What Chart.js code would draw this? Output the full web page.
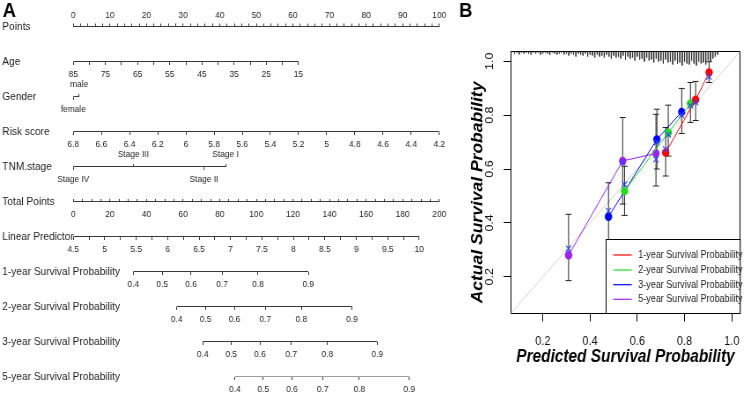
<!DOCTYPE html>
<html><head><meta charset="utf-8">
<script src="https://cdn.jsdelivr.net/npm/chart.js@4.4.1/dist/chart.umd.min.js"></script>
<style>
html,body{margin:0;padding:0;background:#fff;overflow:hidden;width:751px;height:409px;}
#wrap{position:relative;width:751px;height:409px;background:#fff;}
canvas{position:absolute;top:0;}
</style></head><body>
<div id="wrap">
<canvas id="cA" width="545" height="409" style="left:0px;width:480px;height:409px;"></canvas>
<canvas id="cB" width="319" height="409" style="left:470px;width:281px;height:409px;"></canvas>
</div>
<script>
// ================= PANEL A : nomogram data =================
const rowNames = ['Points','Age','Gender','Risk score','TNM.stage','Total Points','Linear Predictor',
  '1-year Survival Probability','2-year Survival Probability','3-year Survival Probability','5-year Survival Probability'];
const pointsLabels = [0,10,20,30,40,50,60,70,80,90,100];
const ageLabels = [85,75,65,55,45,35,25,15];
const ageEndsPoints = [0, 61.5];           // points for age 85 and age 15
const genderLevels = ['male','female'];
const genderPoints = [1.6, 0];
const genderSide = ['above','below'];
const riskLabels = [6.8,6.6,6.4,6.2,6,5.8,5.6,5.4,5.2,5,4.8,4.6,4.4,4.2];
const stageLevels = ['Stage I','Stage II','Stage III','Stage IV'];
const stagePoints = [41.6, 35.7, 16.4, 0];
const stageSide = ['above','below','above','below'];
const totalLabels = [0,20,40,60,80,100,120,140,160,180,200];
const lpLabels = [4.5,5,5.5,6,6.5,7,7.5,8,8.5,9,9.5,10];
const lpEndsPoints = [0, 94.5];             // points for LP 4.5 and LP 10
const survLabels = ['0.4','0.5','0.6','0.7','0.8','0.9'];
const surv1TotalPoints = [32.8, 48.6, 64.3, 81.3, 100.9, 128.4];
const surv2TotalPoints = [56.5, 72.3, 88.1, 104.9, 124.6, 152.3];
const surv3TotalPoints = [70.7, 86.3, 102.0, 119.1, 138.8, 166.1];
const surv5TotalPoints = [88.3, 103.8, 119.5, 136.3, 156.3, 183.6];

// ================= PANEL B : calibration data =================
const calSeries = ['1-year Survival Probability','2-year Survival Probability','3-year Survival Probability','5-year Survival Probability'];
const calColors = ['#ff0000','#22dd22','#0000ff','#a020f0'];
const predicted1 = [0.720, 0.847, 0.904];
const observed1  = [0.661, 0.857, 0.958];
const lower1     = [0.574, 0.780, 0.921];
const upper1     = [0.754, 0.925, 0.998];
const corrected1 = [0.673, 0.847, 0.943];
const predicted2 = [0.546, 0.731, 0.825];
const observed2  = [0.518, 0.735, 0.843];
const lower2     = [0.428, 0.648, 0.773];
const upper2     = [0.610, 0.837, 0.921];
const corrected2 = [0.543, 0.728, 0.835];
const predicted3 = [0.478, 0.683, 0.788];
const observed3  = [0.423, 0.710, 0.812];
const lower3     = [0.300, 0.600, 0.732];
const upper3     = [0.549, 0.822, 0.899];
const corrected3 = [0.445, 0.700, 0.800];
const predicted5 = [0.309, 0.538, 0.679];
const observed5  = [0.280, 0.630, 0.658];
const lower5     = [0.186, 0.470, 0.537];
const upper5     = [0.432, 0.791, 0.803];
const corrected5 = [0.305, 0.625, 0.636];
const calTicks = [0.2, 0.4, 0.6, 0.8, 1.0];
const rugX = [0.08,0.09,0.10,0.11,0.12,0.13,0.14,0.15,0.16,0.17,0.18,0.19,0.20,0.21,0.22,0.23,0.24,0.25,0.26,0.27,0.28,0.29,
  0.30,0.31,0.32,0.33,0.34,0.35,0.36,0.37,0.38,0.39,0.40,0.41,0.42,0.43,0.44,0.45,0.46,0.47,0.48,0.49,0.50,0.51,0.52,0.53,0.54,
  0.55,0.56,0.57,0.58,0.59,0.60,0.61,0.62,0.63,0.64,0.65,0.66,0.67,0.68,0.69,0.70,0.71,0.72,0.73,0.74,0.75,0.76,0.77,0.78,0.79,
  0.80,0.81,0.82,0.83,0.84,0.85,0.86,0.87,0.88,0.89,0.90,0.91,0.92,0.93,0.94];
const rugFreq = [2,1,3,1,2,1,2,3,1,2,1,3,2,1,2,3,1,2,3,2,1,3,
  2,4,2,3,5,2,3,4,2,5,3,4,6,3,5,4,6,3,5,7,4,6,5,7,4,
  8,5,7,6,9,5,8,7,10,6,9,8,11,7,10,9,12,8,11,10,13,9,12,11,14,
  10,12,13,9,12,14,10,12,11,13,9,10,7,5,3];

// ================= common style =================
const FONT = '"Liberation Sans", Arial, Helvetica, sans-serif';
Chart.defaults.font.family = FONT;
const LINE = '#3a3a3a';
const TXT = '#1e1e1e';
const SQ_A = 480 / 545;      // horizontal compression of the reference figure
const SQ_B = 281 / 319;
const ax = x => x / SQ_A;
const bx = x => (x - 470) / SQ_B;

// ---------- helpers panel A ----------
const TK = 3;
function linearRange(a, pa, b, pb) {
  const slope = (b - a) / (pb - pa);
  const v0 = a - pa * slope, v100 = a + (100 - pa) * slope;
  return v0 < v100 ? {min: v0, max: v100, reverse: false} : {min: v100, max: v0, reverse: true};
}
function steps(from, to, step) { const r = []; const n = Math.round(Math.abs(to - from) / step); for (let i = 0; i <= n; i++) r.push(+(from + Math.sign(to - from) * step * i).toFixed(4)); return r; }
function rowAxis(row, o) {
  return {
    type: 'linear', axis: 'x', position: {y: row},
    min: o.min, max: o.max, reverse: !!o.reverse, bounds: 'data',
    afterBuildTicks: s => { s.ticks = o.ticks.map(v => ({value: v})); },
    grid: {display: true, drawOnChartArea: false, drawTicks: true, tickLength: o.up ? -TK : TK, color: LINE, lineWidth: 1},
    border: {display: false},
    ticks: {autoSkip: false, maxRotation: 0, minRotation: 0, padding: o.pad, color: TXT, font: {size: 9.5}, callback: o.label}
  };
}
const PAD_BELOW = 3.8, PAD_BELOW_UP = 9.9, PAD_ABOVE = -15;
const Y_AXIS_W = ax(73.3) - ax(2.3);

const ageR = linearRange(ageLabels[0], ageEndsPoints[0], ageLabels[ageLabels.length - 1], ageEndsPoints[1]);
const riskR = {min: 4.2, max: 6.8, reverse: true};
const lpR = linearRange(lpLabels[0], lpEndsPoints[0], lpLabels[lpLabels.length - 1], lpEndsPoints[1]);
const survRows = [surv1TotalPoints, surv2TotalPoints, surv3TotalPoints, surv5TotalPoints];

const scalesA = {
  y: {type: 'linear', position: 'left', min: 0, max: 10, reverse: true, bounds: 'data',
      afterBuildTicks: s => { s.ticks = rowNames.map((_, i) => ({value: i})); },
      afterFit: s => { s.width = Y_AXIS_W; },
      grid: {display: false}, border: {display: false},
      ticks: {autoSkip: false, mirror: true, crossAlign: 'near', padding: -Y_AXIS_W, color: TXT, font: {size: 11.5},
              callback: v => rowNames[v]}},
  x: {type: 'linear', position: 'top', min: 0, max: 100, bounds: 'data',
      afterBuildTicks: s => { s.ticks = steps(0, 100, 2).map(v => ({value: v})); },
      afterFit: s => { s.height = 26; },
      grid: {display: true, drawOnChartArea: false, tickLength: TK, color: LINE, lineWidth: 1},
      border: {display: true, color: LINE, width: 1},
      ticks: {autoSkip: false, maxRotation: 0, padding: 2.8, color: TXT, font: {size: 9.5},
              callback: v => pointsLabels.includes(v) ? String(v) : ''}},
  xAge: rowAxis(1, {...ageR, ticks: steps(85, 15, 5), pad: PAD_BELOW, label: v => ageLabels.includes(v) ? String(v) : ''}),
  xGenA: rowAxis(2, {min: 0, max: 100, up: true, pad: PAD_ABOVE,
      ticks: genderPoints.filter((p, i) => genderSide[i] === 'above'),
      label: (v, i) => genderLevels.filter((l, j) => genderSide[j] === 'above')[i]}),
  xGenB: rowAxis(2, {min: 0, max: 100, pad: PAD_BELOW,
      ticks: genderPoints.filter((p, i) => genderSide[i] === 'below'),
      label: (v, i) => genderLevels.filter((l, j) => genderSide[j] === 'below')[i]}),
  xRisk: rowAxis(3, {...riskR, ticks: riskLabels, pad: PAD_BELOW, label: v => String(Math.round(v * 10) / 10)}),
  xTnmA: rowAxis(4, {min: 0, max: 100, up: true, pad: PAD_ABOVE,
      ticks: stagePoints.filter((p, i) => stageSide[i] === 'above'),
      label: (v, i) => stageLevels.filter((l, j) => stageSide[j] === 'above')[i]}),
  xTnmB: rowAxis(4, {min: 0, max: 100, pad: PAD_BELOW,
      ticks: stagePoints.filter((p, i) => stageSide[i] === 'below'),
      label: (v, i) => stageLevels.filter((l, j) => stageSide[j] === 'below')[i]}),
  xTot: rowAxis(5, {min: 0, max: 200, up: true, pad: PAD_BELOW_UP, ticks: steps(0, 200, 5),
      label: v => totalLabels.includes(v) ? String(v) : ''}),
  xLP: rowAxis(6, {...lpR, ticks: steps(4.5, 10, 0.25), pad: PAD_BELOW, label: v => lpLabels.includes(v) ? String(v) : ''})
};
survRows.forEach((tp, k) => {
  scalesA['xS' + k] = rowAxis(7 + k, {min: 0, max: 200, ticks: tp, pad: PAD_BELOW, label: (v, i) => survLabels[i]});
});

function rowLine(axisId, row, from, to) {
  return {type: 'line', xAxisID: axisId, yAxisID: 'y', data: [{x: from, y: row}, {x: to, y: row}],
          borderColor: LINE, borderWidth: 1, pointRadius: 0, fill: false};
}
const datasetsA = [
  rowLine('xAge', 1, ageLabels[0], ageLabels[ageLabels.length - 1]),
  rowLine('x', 2, Math.min(...genderPoints), Math.max(...genderPoints)),
  rowLine('xRisk', 3, riskLabels[0], riskLabels[riskLabels.length - 1]),
  rowLine('x', 4, Math.min(...stagePoints), Math.max(...stagePoints)),
  rowLine('xTot', 5, totalLabels[0], totalLabels[totalLabels.length - 1]),
  rowLine('xLP', 6, lpLabels[0], lpLabels[lpLabels.length - 1])
];
survRows.forEach((tp, k) => datasetsA.push(rowLine('xS' + k, 7 + k, tp[0], tp[tp.length - 1])));

function letterPlugin(id, txt, x, y) {
  return {id, afterDraw(chart) { const c = chart.ctx; c.save(); c.font = 'bold 21px ' + FONT; c.fillStyle = '#000';
    c.textBaseline = 'alphabetic'; c.fillText(txt, x, y); c.restore(); }};
}

new Chart(document.getElementById('cA'), {
  type: 'line',
  data: {datasets: datasetsA},
  options: {
    responsive: false, animation: false, devicePixelRatio: 1, events: [],
    layout: {padding: {left: ax(2.3), top: 0.5, right: 545 - ax(439.3), bottom: 32.5}},
    plugins: {legend: {display: false}, tooltip: {enabled: false}},
    scales: scalesA
  },
  plugins: [letterPlugin('lA', 'A', ax(2.7), 17), letterPlugin('lB', 'B', ax(459), 17)]
});

// ================= PANEL B =================
const preds = [predicted1, predicted2, predicted3, predicted5];
const obs = [observed1, observed2, observed3, observed5];
const lows = [lower1, lower2, lower3, lower5];
const ups = [upper1, upper2, upper3, upper5];
const corrs = [corrected1, corrected2, corrected3, corrected5];
const YMIN = 0.064, YMAX = 1.036, RUG_UNIT = 0.0037;

const xMarks = [];
preds.forEach((p, k) => p.forEach((v, i) => xMarks.push({x: v, y: corrs[k][i]})));
const errData = [];
preds.forEach((p, k) => p.forEach((v, i) => { errData.push({x: v, y: lows[k][i]}, {x: v, y: ups[k][i]}, {x: v, y: null}); }));
const rugData = [];
rugX.forEach((v, i) => { rugData.push({x: v, y: YMAX}, {x: v, y: YMAX - rugFreq[i] * RUG_UNIT}, {x: v, y: null}); });

const datasetsB = [
  {label: 'corrected', type: 'line', showLine: false, data: xMarks, order: 0, pointStyle: 'crossRot', pointRadius: 4.2,
   pointBorderColor: '#3048ff', pointBorderWidth: 1.1, pointBackgroundColor: 'rgba(0,0,0,0)'}
];
calSeries.forEach((name, k) => datasetsB.push({
  label: name, isSeries: true, type: 'line', order: 1,
  data: preds[k].map((v, i) => ({x: v, y: obs[k][i]})),
  borderColor: calColors[k], borderWidth: 1, backgroundColor: calColors[k],
  pointRadius: 4.2, pointBackgroundColor: calColors[k], pointBorderColor: calColors[k], pointBorderWidth: 0
}));
datasetsB.push({label: 'errors', type: 'line', order: 2, data: errData, spanGaps: false, borderColor: '#222', borderWidth: 1,
  pointStyle: 'line', pointRadius: 3.4, pointBorderColor: '#222', pointBorderWidth: 1});
datasetsB.push({label: 'rug', type: 'line', order: 3, data: rugData, spanGaps: false, borderColor: '#333', borderWidth: 1, pointRadius: 0});
datasetsB.push({label: 'ideal', type: 'line', order: 4, data: [{x: 0, y: 0}, {x: 1.1, y: 1.1}], borderColor: '#cfcfcf', borderWidth: 1, pointRadius: 0});

const calLegend = {
  id: 'calLegend',
  afterDatasetsDraw(chart) {
    const c = chart.ctx, a = chart.chartArea;
    const L = Math.round(bx(605.7)) + 0.5, T = 239.5, R = a.right, B = a.bottom;
    c.save();
    c.fillStyle = '#fff'; c.fillRect(L, T, R - L, B - T);
    c.strokeStyle = '#000'; c.lineWidth = 1; c.strokeRect(L, T, R - L, B - T);
    const rowsY = [255, 270, 284.7, 299.3];
    c.font = '10.2px ' + FONT; c.textBaseline = 'middle'; c.textAlign = 'left';
    chart.data.datasets.filter(d => d.isSeries).forEach((d, i) => {
      c.strokeStyle = d.borderColor; c.lineWidth = 1.2;
      c.beginPath(); c.moveTo(bx(613.3), rowsY[i]); c.lineTo(bx(631.7), rowsY[i]); c.stroke();
      c.fillStyle = '#222'; c.fillText(d.label, bx(638.3), rowsY[i]);
    });
    c.restore();
  }
};
const yTitle = {
  id: 'yTitle',
  afterDraw(chart) {
    const c = chart.ctx; c.save();
    c.translate(bx(478.5), 192.5); c.rotate(-Math.PI / 2);
    c.font = 'italic bold 17.5px ' + FONT; c.fillStyle = '#000'; c.textAlign = 'center'; c.textBaseline = 'middle';
    c.fillText('Actual Survival Probability', 0, 0); c.restore();
  }
};

new Chart(document.getElementById('cB'), {
  type: 'line',
  data: {datasets: datasetsB},
  options: {
    responsive: false, animation: false, devicePixelRatio: 1, events: [],
    layout: {padding: {left: 0, top: 51.5, right: 319 - bx(746.7), bottom: 0}},
    plugins: {legend: {display: false}, tooltip: {enabled: false}},
    scales: {
      x: {type: 'linear', position: 'bottom', min: YMIN, max: YMAX, bounds: 'data',
          afterBuildTicks: s => { s.ticks = calTicks.map(v => ({value: v})); },
          afterFit: s => { s.height = 409 - 313.5; },
          grid: {display: true, drawOnChartArea: false, tickLength: 8, color: '#000', lineWidth: 1},
          border: {display: true, color: '#000', width: 1},
          ticks: {autoSkip: false, maxRotation: 0, padding: 12.7, color: '#111', font: {size: 12.5}, callback: v => v.toFixed(1)},
          title: {display: true, text: 'Predicted Survival Probability', color: '#000',
                  font: {size: 17.5, weight: 'bold', style: 'italic', lineHeight: 1.2}, padding: {top: 0, bottom: 41.5}}},
      y: {type: 'linear', position: 'left', min: YMIN, max: YMAX, bounds: 'data',
          afterBuildTicks: s => { s.ticks = calTicks.map(v => ({value: v})); },
          afterFit: s => { s.width = bx(510.7); },
          grid: {display: true, drawOnChartArea: false, tickLength: 8, color: '#000', lineWidth: 1},
          border: {display: true, color: '#000', width: 1},
          ticks: {autoSkip: false, minRotation: 90, maxRotation: 90, crossAlign: 'center', padding: 6.85, color: '#111',
                  font: {size: 12.5}, callback: v => v.toFixed(1)}},
      x2: {type: 'linear', axis: 'x', position: 'top', min: YMIN, max: YMAX, afterFit: s => { s.height = 0; },
           grid: {display: false}, ticks: {display: false}, border: {display: true, color: '#000', width: 1}},
      y2: {type: 'linear', axis: 'y', position: 'right', min: YMIN, max: YMAX, afterFit: s => { s.width = 0; },
           grid: {display: false}, ticks: {display: false}, border: {display: true, color: '#000', width: 1}}
    }
  },
  plugins: [calLegend, yTitle]
});
</script></body></html>
